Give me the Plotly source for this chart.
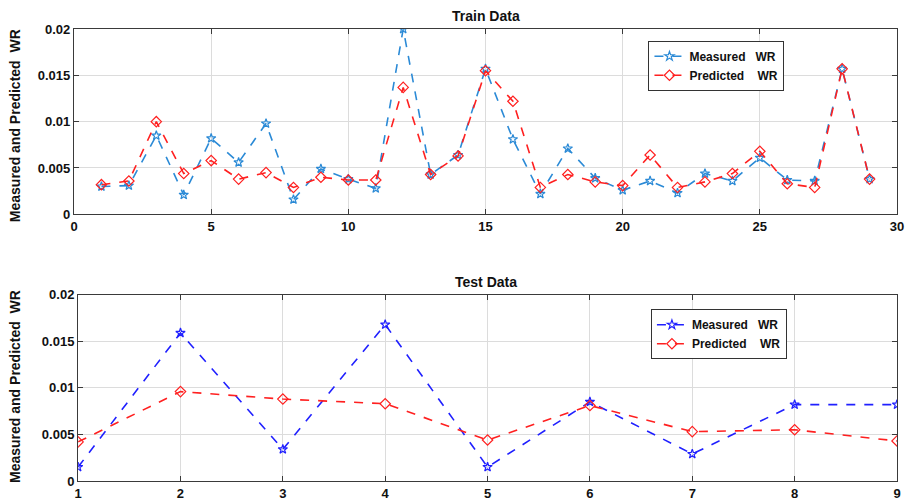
import plotly.graph_objects as go

train_x = list(range(1, 30))
train_measured = [0.0030, 0.0031, 0.0085, 0.0021, 0.0082, 0.0056, 0.0098, 0.0016, 0.0049, 0.0038,
                  0.0028, 0.0200, 0.0043, 0.0064, 0.0157, 0.0081, 0.0022, 0.0071, 0.0039, 0.0026,
                  0.0036, 0.0023, 0.0044, 0.0036, 0.0061, 0.0037, 0.0036, 0.0157, 0.0038]
train_predicted = [0.0032, 0.0036, 0.0100, 0.0044, 0.0058, 0.0038, 0.0045, 0.0029, 0.0040, 0.0037,
                   0.0037, 0.0137, 0.0043, 0.0063, 0.0155, 0.0122, 0.0029, 0.0043, 0.0035, 0.0031,
                   0.0064, 0.0029, 0.0035, 0.0044, 0.0068, 0.0033, 0.0029, 0.0157, 0.0038]
test_x = list(range(1, 10))
test_measured = [0.0015, 0.0159, 0.0034, 0.0168, 0.0015, 0.0085, 0.0029, 0.0082, 0.0082]
test_predicted = [0.0042, 0.0096, 0.0088, 0.0083, 0.0044, 0.0081, 0.0053, 0.0055, 0.0043]

y_tickvals = [0, 0.005, 0.01, 0.015, 0.02]
y_ticktext = ["0", "0.005", "0.01", "0.015", "0.02"]
train_xticks = [0, 5, 10, 15, 20, 25, 30]
test_xticks = list(range(1, 10))

FONT = "Arial, Liberation Sans, sans-serif"
NB = "\u00a0"
name_meas = "<b>Measured" + NB * 3 + "WR</b>"
name_pred = "<b>Predicted" + NB * 4 + "WR</b>"

fig = go.Figure()
fig.add_trace(go.Scatter(x=train_x, y=train_measured, mode="lines+markers", name=name_meas,
                         line=dict(color="#2b8ad6", dash="dash", width=1.6),
                         marker=dict(symbol="star-open", size=7, color="#2b8ad6", line=dict(width=1.2)),
                         xaxis="x", yaxis="y", legend="legend"))
fig.add_trace(go.Scatter(x=train_x, y=train_predicted, mode="lines+markers", name=name_pred,
                         line=dict(color="#ff2020", dash="dash", width=1.6),
                         marker=dict(symbol="diamond-open", size=8, color="#ff2020", line=dict(width=1.2)),
                         xaxis="x", yaxis="y", legend="legend"))
fig.add_trace(go.Scatter(x=test_x, y=test_measured, mode="lines+markers", name=name_meas,
                         line=dict(color="#2020ff", dash="dash", width=1.6),
                         marker=dict(symbol="star-open", size=7, color="#2020ff", line=dict(width=1.2)),
                         xaxis="x2", yaxis="y2", legend="legend2"))
fig.add_trace(go.Scatter(x=test_x, y=test_predicted, mode="lines+markers", name=name_pred,
                         line=dict(color="#ff2020", dash="dash", width=1.6),
                         marker=dict(symbol="diamond-open", size=8, color="#ff2020", line=dict(width=1.2)),
                         xaxis="x2", yaxis="y2", legend="legend2"))

axis_common = dict(showline=True, linecolor="#3a3a3a", linewidth=1.2, mirror="ticks",
                   ticks="inside", ticklen=5, tickcolor="#3a3a3a",
                   showgrid=True, gridcolor="#dcdcdc", gridwidth=1, zeroline=False,
                   tickfont=dict(family=FONT, size=13, color="#111"))

fig.update_layout(
    width=917, height=513,
    margin=dict(l=74, r=20, t=29, b=23),
    paper_bgcolor="white", plot_bgcolor="white",
    font=dict(family=FONT, color="#111"),
    xaxis=dict(domain=[0, 1], range=[0, 30], tickvals=train_xticks, anchor="y",
               ticktext=["<b>%d</b>" % v for v in train_xticks], **axis_common),
    yaxis=dict(domain=[0.59, 1.0], range=[0, 0.02], tickvals=y_tickvals, anchor="x",
               ticktext=["<b>%s</b>" % t for t in y_ticktext], **axis_common),
    xaxis2=dict(domain=[0.005, 1], range=[1, 9], tickvals=test_xticks, anchor="y2",
                ticktext=["<b>%d</b>" % v for v in test_xticks], **axis_common),
    yaxis2=dict(domain=[0.0, 0.412], range=[0, 0.02], tickvals=y_tickvals, anchor="x2",
                ticktext=["<b>%s</b>" % t for t in y_ticktext], **axis_common),
    legend=dict(x=0.698, y=0.974, xanchor="left", yanchor="top", xref="paper", yref="paper",
                bgcolor="white", bordercolor="#333", borderwidth=1,
                font=dict(family=FONT, size=12, color="#111"), tracegroupgap=0, itemwidth=30),
    legend2=dict(x=0.701, y=0.380, xanchor="left", yanchor="top", xref="paper", yref="paper",
                 bgcolor="white", bordercolor="#333", borderwidth=1,
                 font=dict(family=FONT, size=12, color="#111"), tracegroupgap=0, itemwidth=30),
    showlegend=True,
    annotations=[
        dict(text="<b>Train Data</b>", x=0.5, y=1.0, xref="paper", yref="paper", yshift=3,
             xanchor="center", yanchor="bottom", showarrow=False,
             font=dict(family=FONT, size=14, color="#111")),
        dict(text="<b>Test Data</b>", x=0.5, y=0.412, xref="paper", yref="paper", yshift=3,
             xanchor="center", yanchor="bottom", showarrow=False,
             font=dict(family=FONT, size=14, color="#111")),
        dict(text="<b>Measured and Predicted" + NB * 2 + "WR</b>", x=0, y=0.785, xref="paper", yref="paper",
             xshift=-59, textangle=-90, xanchor="center", yanchor="middle", showarrow=False,
             font=dict(family=FONT, size=14, color="#111")),
        dict(text="<b>Measured and Predicted" + NB * 2 + "WR</b>", x=0, y=0.208, xref="paper", yref="paper",
             xshift=-59, textangle=-90, xanchor="center", yanchor="middle", showarrow=False,
             font=dict(family=FONT, size=14, color="#111")),
    ],
)

fig.write_html("out.html", config={"displayModeBar": False},
               post_script="document.body.style.margin='0';document.body.style.overflow='hidden';")
